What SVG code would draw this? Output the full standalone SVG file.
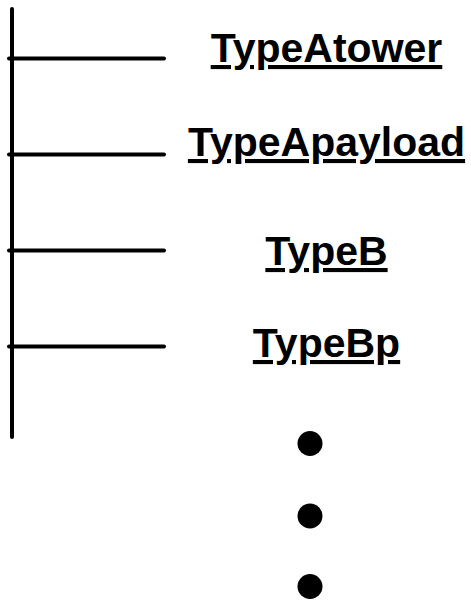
<svg xmlns="http://www.w3.org/2000/svg" width="471" height="604" viewBox="0 0 471 604">
<style>
.ln{stroke:#000;stroke-width:4;stroke-linecap:round;fill:none}
.lb{font-family:"Liberation Sans",Arial,sans-serif;font-weight:bold;font-size:41px;text-anchor:middle;text-decoration:underline;fill:#000}
.dot{fill:#000}
</style>
<rect width="471" height="604" fill="#fff"/>
<g id="connectors">
<line class="ln" x1="12" y1="9" x2="12" y2="437"/>
<line class="ln" x1="9" y1="58.5" x2="164" y2="58.5"/>
<line class="ln" x1="9" y1="154.5" x2="164" y2="154.5"/>
<line class="ln" x1="9" y1="250.5" x2="164" y2="250.5"/>
<line class="ln" x1="9" y1="346.5" x2="164" y2="346.5"/>
</g>
<g id="TypeAtower"><text class="lb" x="326.5" y="62">TypeAtower</text></g>
<g id="TypeApayload"><text class="lb" x="326.5" y="156">TypeApayload</text></g>
<g id="TypeB"><text class="lb" x="326.5" y="265">TypeB</text></g>
<g id="TypeBp"><text class="lb" x="326.5" y="357">TypeBp</text></g>
<g id="dots">
<circle class="dot" cx="310" cy="443.5" r="12.5"/>
<circle class="dot" cx="310" cy="516" r="12.5"/>
<circle class="dot" cx="310" cy="586.5" r="12.5"/>
</g>
</svg>
